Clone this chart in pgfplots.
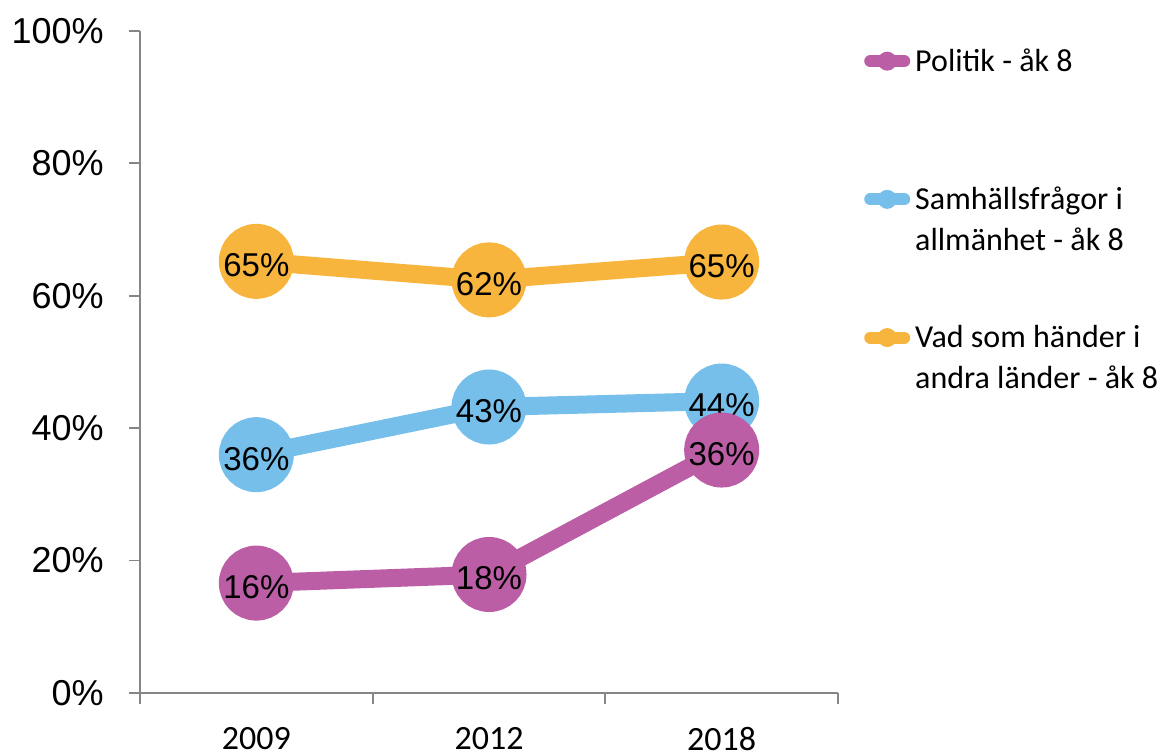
\documentclass[border=0pt]{standalone}
\usepackage{fontspec}
\setmainfont{Liberation Sans}
\newfontfamily\carlito{Carlito}
\usepackage{pgfplots}
\pgfplotsset{compat=1.18}

\definecolor{polC}{RGB}{187,94,165}
\definecolor{samC}{RGB}{118,191,234}
\definecolor{vadC}{RGB}{247,181,62}
\definecolor{axisgray}{RGB}{134,134,134}

\begin{document}
\begin{tikzpicture}
\useasboundingbox (0,0) rectangle (580pt,376.5pt);
\begin{axis}[
    at={(70pt,30pt)}, anchor=south west,
    scale only axis, width=349pt, height=331pt,
    xmin=0.5, xmax=3.5, ymin=0, ymax=100,
    clip=false,
    axis x line*=bottom, axis y line*=left,
    axis line style={-, draw=axisgray, line width=0.9pt},
    tick align=outside, major tick length=5.5pt,
    tick style={draw=axisgray, line width=0.9pt},
    ytick={0,20,40,60,80,100},
    yticklabels={0\%,20\%,40\%,60\%,80\%,100\%},
    yticklabel style={anchor=east, inner sep=0pt, xshift=-12.5pt,
        font=\fontsize{18}{21}\selectfont},
    xtick={0.5,1.5,2.5,3.5}, xticklabels={},
    extra x ticks={1,2,3},
    extra x tick labels={2009,2012,2018},
    extra x tick style={major tick length=0pt, tick style={draw=none},
        xticklabel style={anchor=north, inner sep=0pt, yshift=-17pt,
        font=\carlito\fontsize{17}{20}\selectfont}},
    every axis plot/.append style={line width=9pt, mark=*, mark size=14.25pt,
        mark options={draw=none}},
    point meta=explicit symbolic,
    nodes near coords,
    nodes near coords style={anchor=center, yshift=-2pt, inner sep=0pt,
        text=black, font=\fontsize{16.5}{19}\selectfont},
    reverse legend,
    legend style={at={(axis description cs:1.037,0.9835)}, anchor=north west,
        draw=none, fill=none, inner sep=0pt, row sep=53.25pt, column sep=2.5pt,
        nodes={inner sep=0pt},
        font=\carlito\fontsize{16}{20.5}\selectfont},
    legend cell align=left,
    legend image code/.code={
        \draw[#1, line width=6pt, line cap=round, mark=none] (3pt,-1.5pt) -- (20pt,-1.5pt);
        \fill[#1, draw=none, mark=none] (11.5pt,-1.5pt) circle (4.75pt);
    },
]
\addplot[color=vadC, mark options={fill=vadC}] coordinates {
    (1,65.2) [65\%]
    (2,62.4) [62\%]
    (3,65.1) [65\%]
};
\addlegendentry{\begin{tabular}[t]{@{}l@{}}Vad som händer i\\andra länder - åk 8\end{tabular}}
\addplot[color=samC, mark options={fill=samC}] coordinates {
    (1,36.0) [36\%]
    (2,43.2) [43\%]
    (3,44.1) [44\%]
};
\addlegendentry{\begin{tabular}[t]{@{}l@{}}Samhällsfrågor i\\allmänhet - åk 8\end{tabular}}
\addplot[color=polC, mark options={fill=polC}] coordinates {
    (1,16.6) [16\%]
    (2,17.9) [18\%]
    (3,36.7) [36\%]
};
\addlegendentry{\begin{tabular}[t]{@{}l@{}}Politik - åk 8\\\mbox{}\end{tabular}}
\end{axis}
\end{tikzpicture}
\end{document}
